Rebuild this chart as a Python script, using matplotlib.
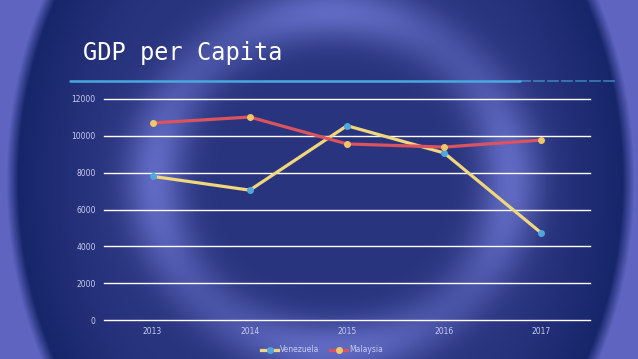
import numpy as np
import matplotlib
matplotlib.use("Agg")
import matplotlib.pyplot as plt
from matplotlib.lines import Line2D

years = ["2013", "2014", "2015", "2016", "2017"]
venezuela = [7800, 7050, 10550, 9070, 4720]
malaysia = [10700, 11020, 9560, 9390, 9770]
y_ticks = [0, 2000, 4000, 6000, 8000, 10000, 12000]
title = "GDP per Capita"

W, H = 638, 359
fig = plt.figure(figsize=(W / 100, H / 100), dpi=100)

# background image
yy, xx = np.mgrid[0:H, 0:W].astype(float)
outer = np.array([0x5e, 0x64, 0xc0]) / 255.0
dark = np.array([0x16, 0x26, 0x6a]) / 255.0
base = np.array([0x29, 0x34, 0x7e]) / 255.0
light = np.array([0x60, 0x6a, 0xc2]) / 255.0
r = np.sqrt(((xx - 320) / 302) ** 2 + ((yy - 180) / 375) ** 2)
rr = np.sqrt(((xx - 332) / 178) ** 2 + ((yy - 180) / 168) ** 2)
ring = np.exp(-((rr - 1.0) / 0.17) ** 2)
ring = ring * (0.6 + 0.4 * np.cos(2 * np.arctan2(yy - 180, xx - 332)) ** 2)
ring = np.clip(ring, 0, 1)[..., None]
inner = base * (1 - ring) + light * ring
edge = np.clip((r - 0.72) / 0.28, 0, 1)[..., None] ** 1.3
inner = inner * (1 - edge) + dark * edge
img = np.where((r <= 1.0)[..., None], inner, outer)
halo = np.clip((r - 1.0) / 0.04, 0, 1)[..., None]
img = np.where((r > 1.0)[..., None], dark * (1 - halo) + outer * halo, img)
bg = fig.add_axes([0, 0, 1, 1], zorder=-10)
bg.imshow(img, extent=[0, W, H, 0], aspect="auto")
bg.set_xlim(0, W)
bg.set_ylim(H, 0)
bg.axis("off")

# title and underline
fig.text(83 / W, 1 - 60 / H, title, family="DejaVu Sans Mono", fontsize=17,
         color="white", ha="left", va="baseline")
bg.plot([70, 520], [81, 81], color="#4aa8e0", lw=1.8, solid_capstyle="round")
for x0 in range(520, 612, 14):
    bg.plot([x0, x0 + 10], [81, 81], color="#4aa8e0", lw=1.3, alpha=0.6)

ax = fig.add_axes([104 / W, 1 - 320 / H, (590 - 104) / W, (320 - 99) / H])
ax.patch.set_alpha(0)
x = np.arange(len(years))
ax.plot(x, venezuela, color="#f0d77c", lw=2.3, marker="o", markersize=4,
        markerfacecolor="#4fa6e0", markeredgecolor="#4fa6e0", label="Venezuela", zorder=3)
ax.plot(x, malaysia, color="#d9545f", lw=2.3, marker="o", markersize=4,
        markerfacecolor="#f3c56a", markeredgecolor="#f3c56a", label="Malaysia", zorder=3)
ax.set_xlim(-0.5, len(years) - 0.5)
ax.set_ylim(0, 12000)
ax.set_yticks(y_ticks)
ax.set_yticklabels([str(v) for v in y_ticks])
ax.set_xticks(x)
ax.set_xticklabels(years)
ax.grid(axis="y", color="white", lw=1.0)
for gl in ax.yaxis.get_gridlines():
    gl.set_clip_on(False)
ax.set_axisbelow(True)
for s in ax.spines.values():
    s.set_visible(False)
ax.tick_params(length=0, labelsize=5.5, labelcolor="#c8cdf0", pad=6)
ax.tick_params(axis="x", pad=5)

handles = [Line2D([0], [0], color="#f0d77c", lw=2.3, marker="o", markersize=4,
                  markerfacecolor="#4fa6e0", markeredgecolor="#4fa6e0"),
           Line2D([0], [0], color="#d9545f", lw=2.3, marker="o", markersize=4,
                  markerfacecolor="#f3c56a", markeredgecolor="#f3c56a")]
fig.legend(handles, ["Venezuela", "Malaysia"], loc="center", bbox_to_anchor=(322 / W, 1 - 350 / H),
           ncol=2, frameon=False, fontsize=5.5, labelcolor="#c8cdf0", handlelength=2.2,
           handletextpad=0.2, columnspacing=1.5)

fig.savefig("out.png", dpi=100)
